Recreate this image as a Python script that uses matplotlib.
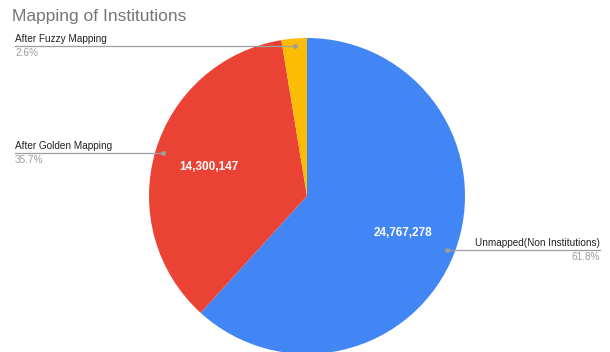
import numpy as np
import matplotlib
matplotlib.use("Agg")
import matplotlib.pyplot as plt

categories = ["Unmapped(Non Institutions)", "After Golden Mapping", "After Fuzzy Mapping"]
values = [24767278, 14300147, 1040000]
colors = ["#4285F4", "#EA4335", "#FBBC04"]
show_value = [True, True, False]

W, H = 610, 352
fig = plt.figure(figsize=(W / 100, H / 100), dpi=100)
ax = fig.add_axes([0, 0, 1, 1])

cx, cy, R = 307, H - 196, 158
wedges, _ = ax.pie(values, colors=colors, startangle=90, counterclock=False,
                   center=(cx, cy), radius=R, frame=True,
                   wedgeprops=dict(linewidth=0))
ax.set_xlim(0, W)
ax.set_ylim(0, H)
ax.set_aspect("equal")
ax.axis("off")

total = sum(values)
font = "Liberation Sans"
for w, name, v, show in zip(wedges, categories, values, show_value):
    mid = np.deg2rad((w.theta1 + w.theta2) / 2)
    ux, uy = np.cos(mid), np.sin(mid)
    pct = 100 * v / total
    if show:
        ax.text(cx + 0.65 * R * ux, cy + 0.65 * R * uy, f"{v:,}", color="white",
                fontsize=8.5, fontweight="bold", ha="center", va="center", family=font)
    px, py = cx + 0.95 * R * ux, cy + 0.95 * R * uy
    ax.plot([px], [py], marker="o", ms=2.5, color="#9e9e9e", zorder=5)
    if ux > 0:
        x_end, ha = W - 10, "right"
    else:
        x_end, ha = 15, "left"
    ax.plot([px, x_end], [py, py], color="#9e9e9e", lw=0.9, zorder=4)
    ax.text(x_end, py + 2, name, ha=ha, va="bottom", fontsize=7.2,
            color="#222222", family=font)
    ax.text(x_end, py - 1.5, f"{pct:.1f}%", ha=ha, va="top", fontsize=7.2,
            color="#9e9e9e", family=font)

ax.text(12, H - 16, "Mapping of Institutions", ha="left", va="center",
        fontsize=12.5, color="#757575", family=font)

fig.savefig("out.png", dpi=100, facecolor="white")
